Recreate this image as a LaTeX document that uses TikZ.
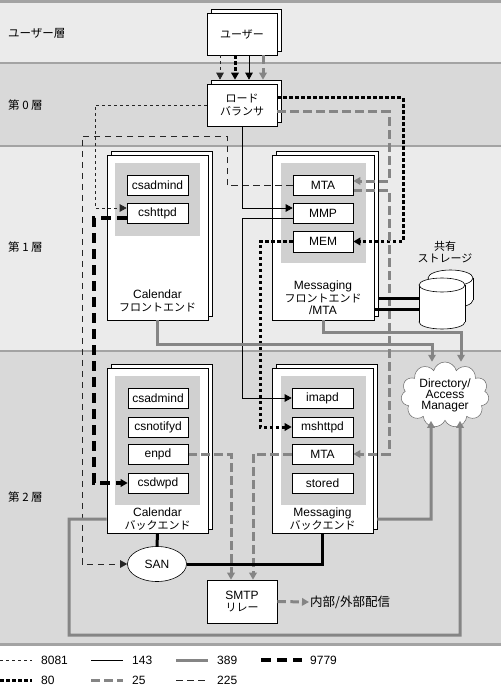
\documentclass[tikz,border=0pt]{standalone}
\usepackage{fontspec}
\setmainfont{Liberation Sans}
\newfontfamily\jp{Noto Sans CJK JP}
\usetikzlibrary{arrows.meta,shapes.geometric,shapes.symbols,calc}
\definecolor{bandA}{HTML}{EBEBEB}
\definecolor{bandB}{HTML}{D9D9D9}
\definecolor{sepc}{HTML}{A3A3A3}
\definecolor{panelc}{HTML}{D0D0D0}
\definecolor{gline}{HTML}{858585}
\pgfdeclareradialshading{cloudshade}{\pgfpoint{0bp}{0bp}}{color(0bp)=(white); color(33bp)=(white); color(47bp)=(gray!45); color(50bp)=(gray!45)}
\pgfdeclarelayer{bg}
\pgfdeclarelayer{fg}
\pgfsetlayers{bg,main,fg}
\newcommand\J[1]{{\jp\fontsize{11}{12}\selectfont #1}}
\begin{document}
\begin{tikzpicture}[x=1pt,y=-1pt,
  lat/.style={font=\fontsize{12}{12.5}\selectfont},
  sbox/.style={draw=black, line width=0.6pt, fill=white, minimum width=61pt, minimum height=20pt, inner sep=0pt, font=\fontsize{12}{12}\selectfont},
  bigbox/.style={draw=black, line width=0.6pt, fill=white, inner sep=0pt},
  shadowbox/.style={draw=black, line width=0.6pt, fill=white},
  tip/.style={-{Triangle[length=7pt,width=7.5pt]}},
  s8081/.style={line width=0.8pt, black!85, dash pattern=on 3pt off 3pt},
  s80/.style={line width=3pt, dash pattern=on 3.5pt off 2.5pt},
  s143/.style={line width=0.8pt},
  s25/.style={line width=3pt, gline, dash pattern=on 8.5pt off 4.5pt},
  s389/.style={line width=3pt, gline},
  s225/.style={line width=0.8pt, black!85, dash pattern=on 6.5pt off 4.5pt},
  s9779/.style={line width=3.5pt, dash pattern=on 10pt off 6pt},
  sblk/.style={line width=3pt},
  layer/.style={anchor=west, inner sep=0pt, font=\jp\fontsize{11.5}{12}\selectfont},
  leg/.style={anchor=west, inner sep=0pt, font=\fontsize{12}{12}\selectfont},
]
\useasboundingbox (0,0) rectangle (501,687);
\begin{pgfonlayer}{bg}
% bands
\fill[white] (0,0) rectangle (501,687);
\fill[sepc] (0,0) rectangle (501,3);
\fill[bandA] (0,3) rectangle (501,62);
\fill[sepc] (0,62) rectangle (501,64.5);
\fill[bandB] (0,64.5) rectangle (501,145);
\fill[sepc] (0,145) rectangle (501,147.5);
\fill[bandA] (0,147.5) rectangle (501,349.5);
\fill[sepc] (0,349.5) rectangle (501,352);
\fill[bandB] (0,352) rectangle (501,643);
\fill[sepc] (0,643) rectangle (501,645.5);
% layer labels
\node[layer] (Lu) at (8,33) {ユーザー層};
\node[layer] (L0) at (8,105) {第 0 層};
\node[layer] (L1) at (8,247) {第 1 層};
\node[layer] (L2) at (8,497) {第 2 層};
% user
\draw[shadowbox] (211,9) rectangle (281,51);
\node[bigbox, minimum width=70pt, minimum height=42pt, font=\jp\fontsize{11}{12}\selectfont] (user) at (242,34) {ユーザー};
% load balancer
\draw[shadowbox] (211,80) rectangle (281,122);
\node[bigbox, minimum width=70pt, minimum height=42pt, align=center, font=\jp\fontsize{11}{13}\selectfont] (lb) at (242,105) {ロード\\バランサ};
% calendar front
\draw[shadowbox] (111,151) rectangle (212,316);
\node[bigbox, minimum width=101pt, minimum height=165pt] (cf) at (157.5,237.5) {};
\fill[panelc] (115,163) rectangle (200,236);
\node[align=center, lat] (cft) at (157.5,301) {Calendar\\\J{フロントエンド}};
% messaging front
\draw[shadowbox] (276,151) rectangle (378,316);
\node[bigbox, minimum width=102pt, minimum height=165pt] (mf) at (323,237.5) {};
\fill[panelc] (281,163) rectangle (366,263);
\node[align=center, lat] (mft) at (323,298) {Messaging\\\J{フロントエンド}\\/MTA};
% calendar back
\draw[shadowbox] (111,364) rectangle (212,529);
\node[bigbox, minimum width=101pt, minimum height=165pt] (cb) at (157.5,450.5) {};
\fill[panelc] (115,376) rectangle (200,505);
\node[align=center, lat] (cbt) at (157.5,519) {Calendar\\\J{バックエンド}};
% messaging back
\draw[shadowbox] (276,364) rectangle (377,529);
\node[bigbox, minimum width=101pt, minimum height=165pt] (mb) at (322.5,450.5) {};
\fill[panelc] (281,376) rectangle (366,505);
\node[align=center, lat] (mbt) at (322.5,519) {Messaging\\\J{バックエンド}};
% SAN, SMTP
\node[ellipse, draw, line width=0.6pt, fill=white, minimum width=59pt, minimum height=35pt, inner sep=0pt, lat] (san) at (157,564) {SAN};
\node[bigbox, minimum width=70pt, minimum height=43pt, align=center, lat] (smtp) at (242,601.5) {SMTP\\\J{リレー}};
\node[anchor=west, inner sep=1pt, font=\jp\fontsize{12.5}{13}\selectfont] (ext) at (309,602) {内部/外部配信};
% directory cloud
\node[cloud, cloud puffs=11, cloud ignores aspect, draw=gray!80!black, line width=0.5pt, shade, shading=cloudshade, minimum width=88pt, minimum height=66pt, inner sep=0pt, align=center, font=\fontsize{12}{11}\selectfont] (dir) at (445,395) {Directory/\\Access\\Manager};
% storage
\node[align=center, font=\jp\fontsize{11}{12.5}\selectfont] (stt) at (445,252) {共有\\ストレージ};
\draw[line width=0.6pt, fill=white] (450.5,300) ellipse [x radius=22.5, y radius=8];
\fill[white] (428,278) rectangle (473,300);
\draw[line width=0.6pt] (428,278) -- (428,300) (473,278) -- (473,300);
\draw[line width=0.6pt, fill=white] (450.5,278) ellipse [x radius=22.5, y radius=8];
\draw[line width=0.6pt, fill=white] (442,322) ellipse [x radius=23, y radius=7];
\fill[white] (419,285) rectangle (465,322);
\draw[line width=0.6pt] (419,285) -- (419,322) (465,285) -- (465,322);
\draw[line width=0.6pt, fill=white] (442,285) ellipse [x radius=23, y radius=7];
\coordinate (stA) at (419,298);
\coordinate (stB) at (419,309);
% legend
\draw[s8081] (0,660) -- (32,660); \node[leg] (l1) at (41,660) {8081};
\draw[s143] (91,660) -- (123,660); \node[leg] (l2) at (132,660) {143};
\draw[s389] (176,660) -- (208,660); \node[leg] (l3) at (217,660) {389};
\draw[s9779] (261,660) -- (302,660); \node[leg] (l4) at (310,660) {9779};
\draw[s80] (0,680) -- (32,680); \node[leg] (l5) at (41,680) {80};
\draw[s25] (91,680) -- (123,680); \node[leg] (l6) at (132,680) {25};
\draw[s225] (176,680) -- (208,680); \node[leg] (l7) at (217,680) {225};
\end{pgfonlayer}
\begin{pgfonlayer}{fg}
\node[sbox] (cf1) at (157.5,185) {csadmind};
\node[sbox] (cf2) at (157.5,213) {cshttpd};
\node[sbox, minimum width=60pt] (mta1) at (323,185.5) {MTA};
\node[sbox, minimum width=60pt] (mmp) at (323,213) {MMP};
\node[sbox, minimum width=60pt, minimum height=21pt] (mem) at (323,241.5) {MEM};
\node[sbox, minimum width=60pt] (cb1) at (158,398) {csadmind};
\node[sbox, minimum width=60pt] (cb2) at (158,427) {csnotifyd};
\node[sbox, minimum width=60pt] (enpd) at (158,454) {enpd};
\node[sbox, minimum width=60pt] (csdwpd) at (158,483) {csdwpd};
\node[sbox] (imapd) at (322.5,398) {imapd};
\node[sbox] (mshttpd) at (322.5,427) {mshttpd};
\node[sbox] (mta2) at (322.5,454) {MTA};
\node[sbox] (stored) at (322.5,483) {stored};
\end{pgfonlayer}
% user -> lb
\draw[s8081,tip] ([xshift=-22pt]user.south) -- ([xshift=-22pt,yshift=4pt]lb.north);
\draw[s80,tip] ([xshift=-7pt]user.south) -- ([xshift=-7pt,yshift=4pt]lb.north);
\draw[s143,tip] ([xshift=7pt]user.south) -- ([xshift=7pt,yshift=4pt]lb.north);
\draw[s25,tip] ([xshift=21pt]user.south) -- ([xshift=21pt,yshift=4pt]lb.north);
% 8081
\draw[s8081,tip] (lb.west) -- (95,105) -- (95,208) -- ([yshift=5pt]cf2.west);
% 225
\draw[s225,tip] (mta1.west) -- (227,185.5) -- (227,136) -- (82,136) -- (82,564) -- (san.west);
% 143
\draw[s143,tip] (lb.south) -- (242,208) -- ([yshift=5pt]mmp.west);
\draw[s143,tip] ([yshift=-5pt]mmp.west) -- (242,218) -- (242,398) -- (imapd.west);
% 80
\draw[s80,tip] ([yshift=7pt]lb.east) -- (403,98) -- (403,241.5) -- (mem.east);
\draw[s80,tip] (mem.west) -- (260,241.5) -- (260,427) -- (mshttpd.west);
% 25
\draw[s25,tip] ([yshift=-7pt]lb.east) -- (389,112) -- (389,181) -- ([yshift=4.5pt]mta1.east);
\draw[s25,tip] ([yshift=-4.5pt]mta1.east) -- (389,190) -- (389,454) -- (mta2.east);
\draw[s25,tip] (mta2.west) -- (253,454) -- ($(smtp.north)+(11,0)$);
\draw[s25,tip] (enpd.east) -- (231,454) -- ($(smtp.north)+(-11,0)$);
\draw[s25,tip] (smtp.east) -- (ext.west);
% 9779
\draw[s9779,tip] ([yshift=-5pt]cf2.west) -- (94,218) -- (94,483) -- (csdwpd.west);
% 389
\draw[s389,tip] (cf.south) -- (157.5,344) -- (432,344) -- ($(dir.north)+(-13,0)$);
\draw[s389,tip] (mf.south) -- (323,332) -- (461,332) -- ($(dir.north)+(16,0)$);
\draw[s389,tip] ($(mb.east)+(4,68.5)$) -- (431,519) -- ($(dir.south)+(-14,0)$);
\draw[s389,tip] ($(cb.west)+(0,68.5)$) -- (69,519) -- (69,635) -- (460,635) -- ($(dir.south)+(15,0)$);
% black
\draw[sblk] (cb.south) -- (san.north);
\draw[sblk] (san.east) -| (mb.south);
\draw[sblk] ($(mf.east |- stA)+(4,0)$) -- (stA);
\draw[sblk] (mf.east |- stB) -- (stB);
\end{tikzpicture}
\end{document}
